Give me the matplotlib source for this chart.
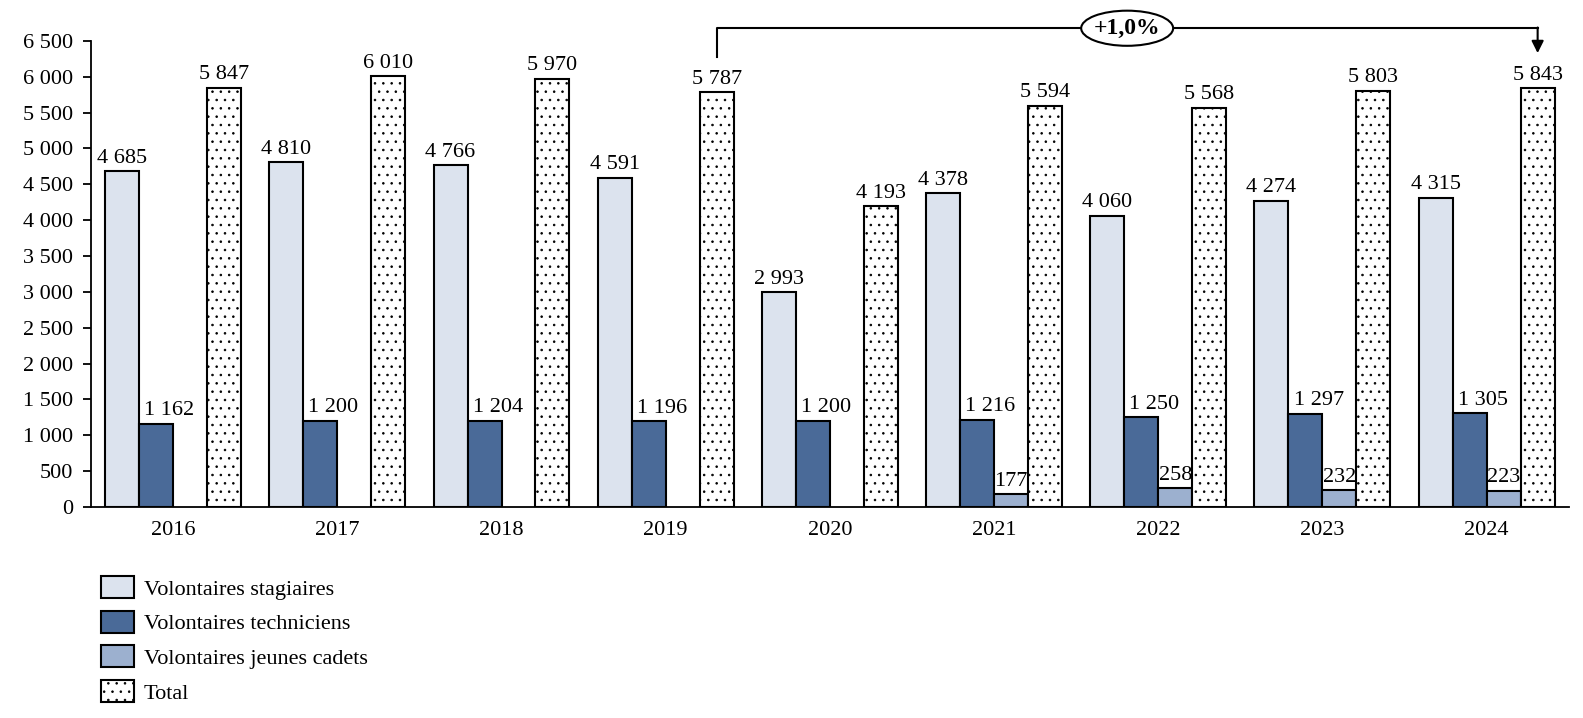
import numpy as np
import matplotlib.pyplot as plt
from matplotlib.patches import Ellipse

plt.rcParams['font.family'] = ['Liberation Serif', 'DejaVu Serif']
plt.rcParams['hatch.linewidth'] = 0.6

years = ['2016', '2017', '2018', '2019', '2020', '2021', '2022', '2023', '2024']
stagiaires = [4685, 4810, 4766, 4591, 2993, 4378, 4060, 4274, 4315]
techniciens = [1162, 1200, 1204, 1196, 1200, 1216, 1250, 1297, 1305]
cadets = [None, None, None, None, None, 177, 258, 232, 223]
total = [5847, 6010, 5970, 5787, 4193, 5594, 5568, 5803, 5843]
labels = ['Volontaires stagiaires', 'Volontaires techniciens',
          'Volontaires jeunes cadets', 'Total']
yticks = list(range(0, 7000, 500))

def fmt(v):
    return f'{v:,}'.replace(',', ' ')

FS = 16
fig = plt.figure(figsize=(15.83, 7.18), dpi=100)
ax = fig.add_axes([0.0575, 0.294, 0.9335, 0.649])

x = np.arange(len(years))
w = 0.207
series = [stagiaires, techniciens, cadets, total]
colors = ['#dce3ee', '#4a6a98', '#9cb0cf', 'white']
hatches = [None, None, None, '..']
label_dx = [0, 9.5, 0, 0]
handles = []
for k, (vals, col, h) in enumerate(zip(series, colors, hatches)):
    xs = x + (k - 1.5) * w
    for xi, v in zip(xs, vals):
        if v is None:
            continue
        ax.bar(xi, v, w, color=col, edgecolor='black', linewidth=1.5, hatch=h)
        ax.annotate(fmt(v), (xi, v), xytext=(label_dx[k], 2.5), textcoords='offset points',
                    ha='center', va='bottom', fontsize=FS)
    handles.append(plt.Rectangle((0, 0), 1, 1, facecolor=col, edgecolor='black',
                                 linewidth=1.5, hatch=h))

ax.set_xlim(-0.5, len(years) - 0.5)
ax.set_ylim(0, 6500)
ax.set_yticks(yticks)
ax.set_yticklabels([fmt(t) for t in yticks], fontsize=FS)
ax.set_xticks(x)
ax.set_xticklabels(years, fontsize=FS)
ax.tick_params(axis='x', length=0, pad=10)
ax.tick_params(axis='y', length=6, width=1.3, direction='out', pad=7)
for s in ['top', 'right']:
    ax.spines[s].set_visible(False)
ax.spines['left'].set_linewidth(1.3)
ax.spines['bottom'].set_linewidth(1.3)

# bracket from 2019 total to 2024 total
x0 = x[3] + 1.5 * w
x1 = x[8] + 1.5 * w
ytop = 6677
ax.plot([x0, x0, x1], [6273, ytop, ytop], color='black', lw=1.5, clip_on=False)
ax.annotate('', xy=(x1, 6330), xytext=(x1, ytop + 10),
            arrowprops=dict(arrowstyle='-|>', color='black', lw=1.5,
                            mutation_scale=18, shrinkA=0, shrinkB=0),
            annotation_clip=False)
xm = (x0 + x1) / 2
ax.add_patch(Ellipse((xm, ytop), 0.56, 490, facecolor='white', edgecolor='black',
                     lw=1.5, clip_on=False, zorder=5))
ax.text(xm, ytop, '+1,0%', ha='center', va='center', fontsize=FS + 1,
        fontweight='bold', zorder=6)

fig.legend(handles, labels, loc='upper left', bbox_to_anchor=(0.058, 0.21),
           frameon=False, fontsize=FS, handlelength=1.5, handleheight=1.15,
           labelspacing=0.5, handletextpad=0.45, borderaxespad=0)

fig.savefig('out.png', dpi=100)
